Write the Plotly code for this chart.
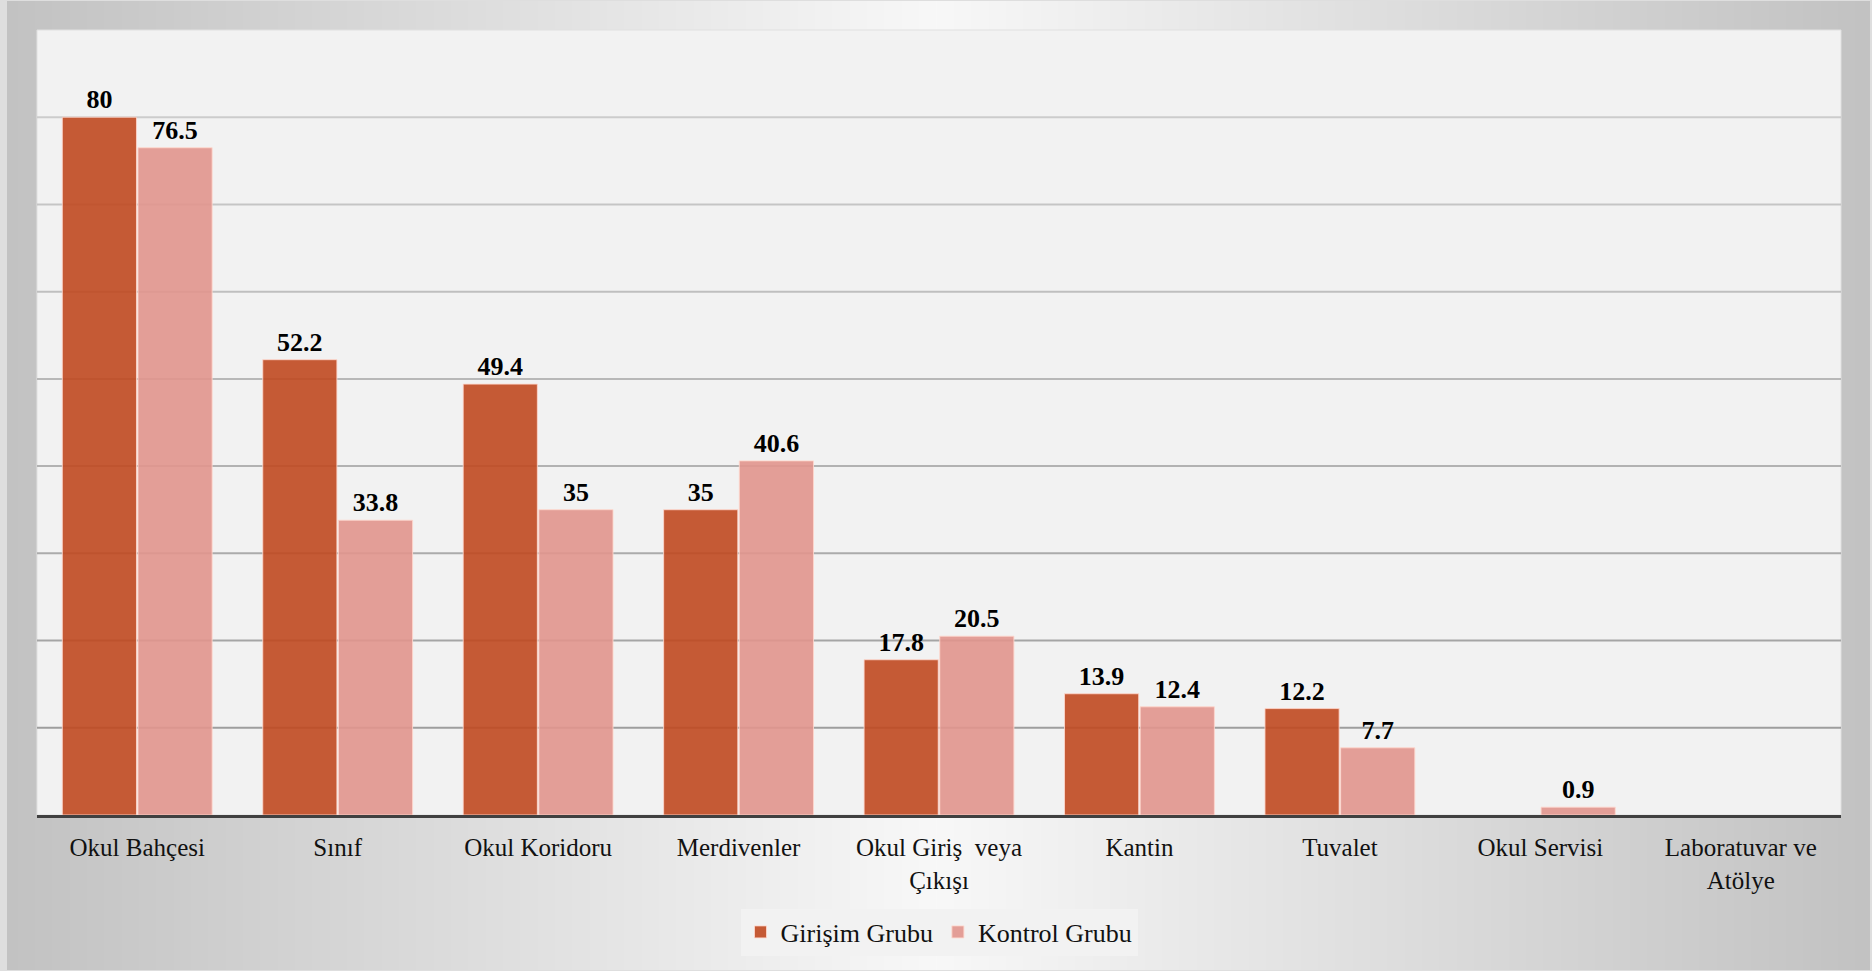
import base64
import struct
import zlib

import numpy as np
import plotly.graph_objects as go

# ---- data -------------------------------------------------------------
categories = [
    "Okul Bahçesi", "Sınıf", "Okul Koridoru", "Merdivenler",
    "Okul Giriş veya Çıkışı", "Kantin", "Tuvalet", "Okul Servisi",
    "Laboratuvar ve Atölye",
]
tick_labels = [
    "Okul Bahçesi", "Sınıf", "Okul Koridoru", "Merdivenler",
    "Okul Giriş  veya<br>Çıkışı", "Kantin", "Tuvalet", "Okul Servisi",
    "Laboratuvar ve<br>Atölye",
]
girisim = [80, 52.2, 49.4, 35, 17.8, 13.9, 12.2, None, None]
kontrol = [76.5, 33.8, 35, 40.6, 20.5, 12.4, 7.7, 0.9, None]
series_names = ["Girişim Grubu", "Kontrol Grubu"]

# ---- page geometry ------------------------------------------------------
W, H = 1872, 971
ML, MR, MT, MB = 37, 31, 30, 156
PW, PH = W - ML - MR, H - MT - MB

SERIF = "Liberation Serif"


def gray_png(arr):
    """Encode a 2-D uint8 array as a grayscale PNG data URI."""
    h, w = arr.shape
    raw = b"".join(b"\x00" + arr[i].tobytes() for i in range(h))

    def chunk(tag, data):
        return (struct.pack(">I", len(data)) + tag + data
                + struct.pack(">I", zlib.crc32(tag + data) & 0xFFFFFFFF))

    png = (b"\x89PNG\r\n\x1a\n"
           + chunk(b"IHDR", struct.pack(">IIBBBBB", w, h, 8, 0, 0, 0, 0))
           + chunk(b"IDAT", zlib.compress(raw, 9))
           + chunk(b"IEND", b""))
    return "data:image/png;base64," + base64.b64encode(png).decode()


# soft grey backdrop: light in the middle, darker toward the sides
bx0, bx1, by0, by1 = 7, 1870, 1, 970
gw = bx1 - bx0
xs = np.arange(gw) + bx0
r = np.abs(xs - W / 2) / (W / 2)
row = np.clip(248 - 54 * r, 0, 255).astype(np.uint8)
backdrop = gray_png(np.vstack([row, row]))

fig = go.Figure()

colors = ["rgba(192,73,32,0.9)", "rgba(225,149,141,0.9)"]
for name, vals, col in zip(series_names, [girisim, kontrol], colors):
    fig.add_trace(go.Bar(
        name=name,
        x=categories,
        y=vals,
        marker=dict(color=col, line=dict(color="rgba(255,215,205,0.85)", width=1)),
        text=["" if v is None else f"{v:g}" for v in vals],
        textposition="outside",
        textfont=dict(family=SERIF, size=26, color="#000000", weight="bold"),
        cliponaxis=False,
        hoverinfo="x+y+name",
    ))

# plot-area fill and shaded gridlines
shapes = [dict(type="rect", xref="paper", yref="paper", x0=0, x1=1, y0=0, y1=1,
               fillcolor="#f2f2f2", line=dict(color="#e0e0e0", width=1), layer="below")]
for g in range(10, 90, 10):
    shade = int(round(158 + (g - 10) / 70 * (204 - 158)))
    shapes.append(dict(type="line", xref="paper", yref="y", x0=0, x1=1, y0=g, y1=g,
                       line=dict(color=f"rgb({shade},{shade},{shade})", width=2),
                       layer="below"))

fig.update_layout(
    width=W, height=H,
    margin=dict(l=ML, r=MR, t=MT, b=MB),
    paper_bgcolor="#dedede",
    plot_bgcolor="rgba(0,0,0,0)",
    barmode="group",
    bargap=0.245,
    bargroupgap=0.02,
    showlegend=True,
    legend=dict(
        orientation="h", x=0.5, xanchor="center",
        y=-(932 - (H - MB)) / PH, yanchor="middle",
        bgcolor="#f2f2f2",
        font=dict(family=SERIF, size=26, color="#111111"),
        itemwidth=30,
    ),
    images=[dict(
        source=backdrop, xref="paper", yref="paper",
        x=(bx0 - ML) / PW, y=1 + (MT - by0) / PH,
        sizex=gw / PW, sizey=(by1 - by0) / PH,
        xanchor="left", yanchor="top", sizing="stretch", layer="below",
    )],
    shapes=shapes,
    xaxis=dict(
        tickmode="array", tickvals=categories, ticktext=tick_labels,
        tickfont=dict(family=SERIF, size=25, color="#111111"),
        ticks="outside", ticklen=8, tickcolor="rgba(0,0,0,0)",
        showline=True, linecolor="#404040", linewidth=3,
        showgrid=False, zeroline=False,
    ),
    yaxis=dict(
        range=[0, 90], showgrid=False, zeroline=False,
        showticklabels=False, ticks="",
    ),
)

fig.write_html("out.html")
